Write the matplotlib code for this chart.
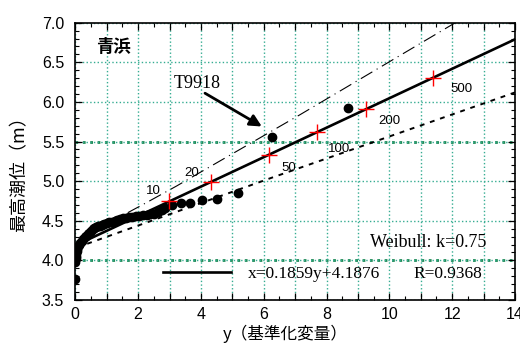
import numpy as np
import matplotlib
matplotlib.use("Agg")
import matplotlib.pyplot as plt
from matplotlib.ticker import MultipleLocator, FuncFormatter

# ---- data ----
# observed maxima (reduced variate y, peak tide level x)
obs_y = [0.0, 0.002, 0.005, 0.01, 0.02, 0.03, 0.05, 0.07, 0.10, 0.13, 0.16, 0.20,
         0.25, 0.30, 0.35, 0.40, 0.45, 0.50, 0.55, 0.60, 0.66, 0.72, 0.78, 0.85,
         0.92, 1.00, 1.08, 1.16, 1.25, 1.34, 1.43, 1.52, 1.62, 1.72, 1.82, 1.93,
         2.04, 2.15, 2.27, 2.39, 2.51, 2.63, 2.75, 2.87,
         3.07, 3.36, 3.65, 4.03, 4.52, 5.19, 6.25, 8.69]
obs_x = [3.76, 3.98, 4.00, 4.03, 4.06, 4.09, 4.12, 4.15, 4.18, 4.20, 4.22, 4.24,
         4.27, 4.29, 4.31, 4.33, 4.35, 4.37, 4.39, 4.41, 4.42, 4.43, 4.44, 4.45,
         4.46, 4.47, 4.48, 4.49, 4.50, 4.51, 4.52, 4.53, 4.54, 4.55, 4.55, 4.56,
         4.56, 4.57, 4.57, 4.58, 4.59, 4.61, 4.63, 4.66,
         4.70, 4.72, 4.72, 4.76, 4.77, 4.85, 5.56, 5.92]

# regression x = a*y + b
fit_a, fit_b, fit_r = 0.1859, 4.1876, 0.9368
fit_range = [0.3, 14.0]

# return periods on the fit line
rp_labels = ["10", "20", "50", "100", "200", "500"]
rp_y = [2.99, 4.32, 6.18, 7.69, 9.24, 11.40]

# upper (dash-dot) and lower (dotted) bounds
upper_y = [0.3, 2.27, 3.23, 7.16, 12.1]
upper_x = [4.31, 4.73, 4.94, 5.84, 7.00]
lower_y = [0.38, 6.23, 14.0]
lower_x = [4.21, 5.04, 6.12]

# T9918 annotation
t9918_tip = (5.94, 5.69)
t9918_tail = (4.13, 6.11)

plt.rcParams["font.family"] = ["Noto Sans CJK JP", "DejaVu Sans"]

fig = plt.figure(figsize=(5.2, 3.47), dpi=100)
ax = fig.add_axes([0.1448, 0.1354, 0.8456, 0.7992])

grid_c = "#36ad92"
ax.set_xlim(0, 14)
ax.set_ylim(3.5, 7.0)
ax.xaxis.set_major_locator(MultipleLocator(1))
ax.xaxis.set_minor_locator(MultipleLocator(0.5))
ax.xaxis.set_major_formatter(FuncFormatter(lambda v, p: f"{v:.0f}" if round(v) % 2 == 0 else ""))
ax.yaxis.set_major_locator(MultipleLocator(0.5))
ax.yaxis.set_minor_locator(MultipleLocator(0.1))
ax.yaxis.set_major_formatter(FuncFormatter(lambda v, p: f"{v:.1f}"))
ax.tick_params(which="both", direction="in", top=True, right=True, labelsize=11.5)
ax.tick_params(axis="x", pad=5)
ax.tick_params(axis="y", pad=8)
ax.tick_params(which="major", length=5, width=0.9)
ax.tick_params(which="minor", length=3, width=0.8)
for lab in ax.get_xticklabels() + ax.get_yticklabels():
    lab.set_family("Liberation Sans")
ax.grid(which="major", color=grid_c, linestyle=":", linewidth=1.0)
for yy in (4.0, 5.5):
    ax.axhline(yy, color="#1f8a55", linestyle=":", linewidth=2.0, zorder=1)
for s in ax.spines.values():
    s.set_linewidth(1.2)

# bounds
ax.plot(upper_y, upper_x, color="black", linewidth=0.8, dashes=(12, 4.5, 1, 4.5), zorder=2)
ax.plot(lower_y, lower_x, color="black", linewidth=1.4, dashes=(2.5, 3), zorder=2)

# fit line
fy = np.array(fit_range)
ax.plot(fy, fit_a * fy + fit_b, color="black", linewidth=1.9, zorder=3)

# observations
ax.plot(obs_y, obs_x, "o", color="black", markersize=6, zorder=4)

# return period markers
rp_y = np.array(rp_y)
ax.plot(rp_y, fit_a * rp_y + fit_b, "+", color="red", markersize=11, mew=1.0, zorder=5)
rp_text_pos = [(2.50, 4.87), (3.70, 5.10), (6.80, 5.16), (8.40, 5.40), (9.99, 5.76), (12.28, 6.16)]
for lab, (tx, ty) in zip(rp_labels, rp_text_pos):
    ax.text(tx, ty, lab, fontsize=9.5, family="Liberation Sans", ha="center", va="center")

# T9918
ax.annotate("", xy=t9918_tip, xytext=t9918_tail,
            arrowprops=dict(arrowstyle="-|>,head_length=0.7,head_width=0.35",
                            color="black", lw=2.0, shrinkA=0, shrinkB=0))
ax.text(3.88, 6.23, "T9918", fontsize=13, family="Liberation Serif", ha="center", va="center")

# station name
ax.text(0.047, 0.912, "青浜", transform=ax.transAxes, fontsize=12.5, fontweight="bold",
        ha="left", va="center")

# legend-like line and texts
ax.legend([plt.Line2D([0], [0], color="black", linewidth=1.9)],
          [f"x={fit_a:.4f}y+{fit_b:.4f}"], loc="center left",
          bbox_to_anchor=(0.2, 0.094), frameon=False, borderpad=0, borderaxespad=0,
          handlelength=3.9, handletextpad=0.95,
          prop={"family": "Liberation Serif", "size": 12.5})
ax.text(0.768, 0.094, f"R={fit_r:.4f}", transform=ax.transAxes, fontsize=12.5,
        family="Liberation Serif", ha="left", va="center")
ax.text(0.67, 0.206, "Weibull: k=0.75", transform=ax.transAxes, fontsize=13,
        family="Liberation Serif", ha="left", va="center")

ax.set_ylabel("最高潮位（m）", fontsize=13)
ax.set_xlabel("y（基準化変量）", fontsize=12)
ax.yaxis.set_label_coords(-0.107, 0.47)
ax.xaxis.set_label_coords(0.478, -0.09)

fig.savefig("out.png", dpi=100)
